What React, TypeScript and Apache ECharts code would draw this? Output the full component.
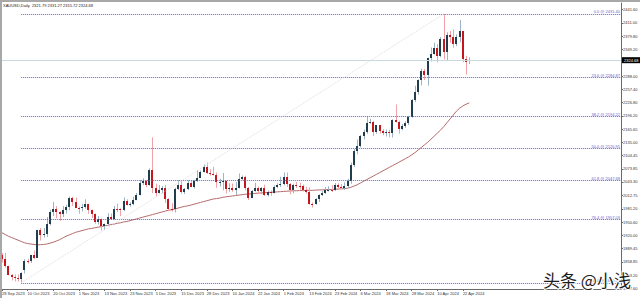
import React, { useEffect, useRef } from 'react';
import * as echarts from 'echarts';

const titleText = 'XAUUSD,Daily  2321.79 2331.27 2315.72 2324.68';
const currentPrice = 2324.68;

const dateLabels = ['28 Sep 2023', '10 Oct 2023', '20 Oct 2023', '1 Nov 2023', '13 Nov 2023', '23 Nov 2023', '5 Dec 2023', '15 Dec 2023', '28 Dec 2023', '10 Jan 2024', '22 Jan 2024', '1 Feb 2024', '13 Feb 2024', '23 Feb 2024', '6 Mar 2024', '18 Mar 2024', '28 Mar 2024', '10 Apr 2024', '22 Apr 2024'];
const labelBars = [0, 8, 16, 24, 32, 40, 48, 56, 64, 72, 80, 88, 96, 104, 112, 120, 128, 136, 144];

const yTicks = [2441.6, 2411.0, 2379.8, 2349.2, 2288.0, 2257.4, 2226.8, 2196.2, 2165.65, 2135.0, 2104.45, 2073.85, 2043.3, 2012.75, 1981.2, 1950.6, 1920.0, 1889.45, 1858.85, 1828.2, 1797.6];

const opens = [1874.5, 1864.6, 1848.6, 1827.6, 1822.9, 1821.5, 1820.2, 1840.0, 1861.3, 1860.5, 1874.4, 1868.6, 1932.6, 1919.9, 1923.6, 1947.4, 1974.2, 1981.2, 1972.9, 1970.4, 1979.6, 1984.8, 2006.3, 1996.5, 1983.9, 1982.7, 1985.4, 1992.6, 1978.2, 1969.6, 1950.5, 1958.6, 1940.5, 1946.5, 1962.6, 1958.7, 1981.0, 1980.7, 1977.8, 1998.5, 1989.9, 1992.2, 2001.9, 2014.3, 2040.8, 2044.5, 2036.2, 2072.0, 2029.3, 2018.5, 2025.6, 2028.4, 2004.5, 1981.5, 1979.8, 2027.7, 2035.8, 2019.4, 2027.2, 2040.7, 2031.7, 2045.3, 2053.1, 2067.3, 2077.3, 2064.6, 2062.9, 2058.7, 2042.2, 2043.1, 2045.5, 2027.6, 2030.1, 2024.5, 2028.9, 2049.3, 2055.7, 2028.3, 2006.4, 2023.3, 2029.3, 2021.5, 2029.5, 2013.7, 2020.3, 2018.3, 2032.5, 2036.9, 2039.1, 2054.8, 2039.5, 2025.2, 2035.2, 2034.5, 2034.0, 2024.5, 2020.5, 1992.5, 1991.8, 2004.3, 2013.4, 2017.7, 2024.9, 2025.3, 2024.3, 2035.5, 2031.5, 2030.5, 2034.0, 2044.5, 2082.5, 2114.5, 2127.5, 2148.5, 2159.5, 2179.0, 2182.5, 2158.5, 2174.5, 2162.0, 2155.5, 2159.5, 2157.5, 2186.5, 2181.5, 2165.5, 2171.5, 2178.5, 2193.5, 2233.5, 2250.5, 2279.5, 2300.0, 2291.0, 2329.5, 2339.0, 2352.5, 2333.5, 2372.5, 2344.5, 2384.0, 2378.0, 2361.0, 2379.0, 2391.5, 2327.0, 2321.79];
const highs = [1879.5, 1880.0, 1850.0, 1830.7, 1829.5, 1829.6, 1835.0, 1865.0, 1866.0, 1875.0, 1885.0, 1933.0, 1937.0, 1937.0, 1962.5, 1979.0, 1997.2, 1987.5, 1976.0, 1988.0, 1991.0, 2009.5, 2009.3, 2007.4, 1986.5, 1993.0, 2003.5, 1993.0, 1980.0, 1970.5, 1965.0, 1959.8, 1947.7, 1971.0, 1970.5, 1987.6, 1993.5, 1982.7, 2007.6, 2003.5, 1996.6, 2009.4, 2017.7, 2048.0, 2052.0, 2048.0, 2075.3, 2146.5, 2039.2, 2036.5, 2034.0, 2036.5, 2005.8, 1994.0, 2030.0, 2047.6, 2048.0, 2029.6, 2047.5, 2046.7, 2048.2, 2070.9, 2070.0, 2083.8, 2088.5, 2073.0, 2078.6, 2065.2, 2051.0, 2064.0, 2047.0, 2040.5, 2040.0, 2043.0, 2062.8, 2058.4, 2057.5, 2031.5, 2025.0, 2041.7, 2033.0, 2031.7, 2037.0, 2023.7, 2024.0, 2036.0, 2040.5, 2055.5, 2065.5, 2065.5, 2041.0, 2039.5, 2043.0, 2041.8, 2037.5, 2032.5, 2031.0, 1996.0, 2006.0, 2015.0, 2022.5, 2031.5, 2033.5, 2035.5, 2041.0, 2040.5, 2038.5, 2042.5, 2051.0, 2088.5, 2119.5, 2141.5, 2152.0, 2164.5, 2195.0, 2189.5, 2184.5, 2175.0, 2175.0, 2166.0, 2164.5, 2164.0, 2188.0, 2222.5, 2185.0, 2177.0, 2183.5, 2196.5, 2235.0, 2265.5, 2280.0, 2305.0, 2304.5, 2330.5, 2354.0, 2365.0, 2362.0, 2378.5, 2431.4, 2389.0, 2392.0, 2395.5, 2384.0, 2417.5, 2392.0, 2335.0, 2331.27];
const lows = [1857.5, 1846.0, 1827.5, 1815.6, 1813.4, 1813.6, 1810.5, 1832.0, 1855.0, 1856.0, 1865.0, 1868.0, 1908.0, 1915.0, 1916.0, 1943.0, 1965.0, 1959.5, 1953.9, 1962.5, 1970.5, 1978.0, 1987.9, 1983.0, 1969.7, 1975.0, 1981.5, 1970.0, 1960.0, 1947.0, 1945.0, 1931.5, 1932.2, 1944.5, 1956.0, 1956.0, 1974.0, 1965.0, 1975.5, 1989.0, 1986.3, 1989.5, 2001.2, 2012.0, 2036.5, 2031.0, 2034.5, 2018.0, 2009.5, 2016.5, 2017.5, 1994.9, 1976.0, 1975.0, 1973.0, 2025.0, 2016.0, 2015.5, 2024.0, 2030.9, 2028.5, 2043.0, 2052.5, 2065.0, 2062.0, 2058.0, 2058.5, 2030.0, 2033.0, 2024.2, 2016.5, 2021.0, 2020.5, 2013.5, 2028.0, 2048.0, 2023.5, 2001.9, 2006.0, 2021.0, 2015.8, 2015.0, 2011.0, 2009.7, 2011.5, 2017.0, 2029.0, 2031.5, 2036.0, 2032.0, 2014.9, 2017.5, 2029.5, 2026.0, 2021.5, 2017.0, 1990.5, 1984.2, 1990.5, 1997.0, 2011.0, 2015.5, 2021.5, 2020.0, 2022.5, 2025.5, 2028.5, 2025.0, 2029.5, 2039.0, 2078.0, 2107.5, 2123.0, 2141.5, 2155.0, 2178.0, 2149.5, 2155.0, 2155.5, 2151.5, 2148.5, 2146.0, 2146.0, 2180.5, 2155.5, 2163.0, 2168.5, 2175.0, 2192.0, 2228.0, 2245.0, 2266.0, 2279.0, 2265.5, 2321.5, 2337.0, 2320.0, 2331.5, 2326.0, 2325.0, 2365.0, 2353.5, 2357.0, 2366.0, 2320.0, 2291.5, 2315.72];
const closes = [1864.6, 1848.6, 1827.6, 1822.9, 1821.5, 1820.2, 1832.6, 1861.3, 1860.5, 1874.4, 1868.6, 1932.6, 1919.9, 1923.6, 1947.4, 1974.2, 1981.2, 1972.9, 1970.4, 1979.6, 1984.8, 2006.3, 1996.5, 1983.9, 1982.7, 1985.4, 1992.6, 1978.2, 1969.6, 1950.5, 1958.6, 1940.5, 1946.5, 1962.6, 1958.7, 1981.0, 1980.7, 1977.8, 1998.5, 1989.9, 1992.2, 2001.9, 2014.3, 2040.8, 2044.5, 2036.2, 2072.0, 2029.3, 2018.5, 2025.6, 2028.4, 2004.5, 1981.5, 1979.8, 2027.7, 2035.8, 2019.4, 2027.2, 2040.7, 2031.7, 2045.3, 2053.1, 2067.3, 2077.3, 2064.6, 2062.9, 2058.7, 2042.2, 2043.1, 2045.5, 2027.6, 2030.1, 2024.5, 2028.9, 2049.3, 2055.7, 2028.3, 2006.4, 2023.3, 2029.3, 2021.5, 2029.5, 2013.7, 2020.3, 2018.3, 2032.5, 2036.9, 2039.1, 2054.8, 2039.5, 2025.2, 2035.2, 2034.5, 2034.0, 2024.5, 2020.5, 1992.5, 1991.8, 2004.3, 2013.4, 2017.7, 2024.9, 2025.3, 2024.3, 2035.5, 2031.5, 2030.5, 2034.0, 2044.5, 2082.5, 2114.5, 2127.5, 2148.5, 2159.5, 2179.0, 2182.5, 2158.5, 2174.5, 2162.0, 2155.5, 2159.5, 2157.5, 2186.5, 2181.5, 2165.5, 2171.5, 2178.5, 2193.5, 2233.5, 2250.5, 2279.5, 2300.0, 2291.0, 2329.5, 2339.0, 2352.5, 2333.5, 2372.5, 2344.5, 2383.0, 2378.0, 2361.0, 2379.0, 2391.5, 2327.0, 2321.0, 2324.68];

const maValues = [1926, 1922, 1918, 1915, 1912, 1909, 1906, 1903, 1901, 1900, 1899, 1898, 1898.5, 1899, 1900, 1902, 1904, 1907, 1910, 1914, 1918, 1921, 1924, 1927, 1929, 1931, 1933, 1935, 1936, 1937.5, 1939, 1940, 1942, 1943, 1945, 1946, 1948, 1949, 1951, 1952, 1954, 1956, 1958, 1960, 1962, 1964, 1966, 1968, 1970, 1972, 1974, 1976, 1978, 1979, 1981, 1983, 1985, 1987, 1988, 1990, 1992, 1994, 1996, 1998, 2000, 2002, 2004, 2005, 2006, 2008, 2009, 2010, 2011, 2012, 2013, 2014, 2015, 2015.5, 2016, 2017, 2017.5, 2018, 2018.5, 2019, 2019.5, 2020, 2020.5, 2021, 2021.5, 2022, 2022.5, 2023, 2023, 2023.5, 2023.5, 2024, 2024, 2024, 2024.5, 2025, 2025, 2025.5, 2026, 2026, 2026.5, 2027, 2027.5, 2028, 2029, 2031, 2034, 2037, 2041, 2045, 2049, 2053, 2057, 2061, 2065, 2069, 2073, 2077, 2081, 2085, 2089, 2093, 2097, 2101, 2106, 2111, 2117, 2123, 2129, 2135, 2142, 2149, 2156, 2163, 2171, 2180, 2189, 2198, 2207, 2214, 2219, 2223, 2226];

const fibLevels = ['0.0', '23.6', '38.2', '50.0', '61.8', '76.4', '100.0'];
const fibValues = [2431.40, 2284.87, 2194.22, 2120.95, 2047.68, 1957.03, 1810.50];
const fibStartBar = 6;
const fibEndBar = 138;

const X_MAX = 193.4;
const Y_MIN = 1796.1;
const Y_MAX = 2456.8;

const UP_BODY = '#1f3d4c';
const DOWN_BODY = '#c3161d';
const UP_WICK = '#9fb3c5';
const DOWN_WICK = '#f0a2a8';
const FIB = '#6464c8';
const FONT = '"Liberation Sans", Arial, sans-serif';

export default function App() {
  const ref = useRef<HTMLDivElement>(null);
  useEffect(() => {
    if (!ref.current) return;
    const chart = echarts.init(ref.current, null, { renderer: 'svg' });
    const candleData = opens.map((o, i) => [i, o, closes[i], lows[i], highs[i]]);
    const renderItem = (params: any, api: any) => {
      const i = api.value(0);
      const o = api.value(1);
      const c = api.value(2);
      const l = api.value(3);
      const h = api.value(4);
      const pO = api.coord([i, o]);
      const pC = api.coord([i, c]);
      const pL = api.coord([i, l]);
      const pH = api.coord([i, h]);
      const up = c >= o;
      const cx = Math.round(pO[0]);
      const top = Math.round(Math.min(pO[1], pC[1]));
      const bot = Math.round(Math.max(pO[1], pC[1]));
      const bh = Math.max(1, bot - top);
      return {
        type: 'group',
        children: [
          { type: 'rect', shape: { x: cx, y: pH[1], width: 1, height: Math.max(1, pL[1] - pH[1]) }, style: { fill: up ? UP_WICK : DOWN_WICK } },
          { type: 'rect', shape: { x: cx - 1, y: top, width: 2, height: bh }, style: { fill: up ? UP_BODY : DOWN_BODY } },
        ],
      };
    };
    const fibLines = fibValues.map((v, k) => [
      {
        coord: [fibStartBar, v],
        label: {
          show: true,
          position: 'insideEndTop',
          formatter: `${fibLevels[k]} @ ${v.toFixed(2)}`,
          color: FIB,
          fontSize: 4,
          fontFamily: FONT,
          distance: [1, 0],
        },
      },
      { coord: [X_MAX, v] },
    ]);
    chart.setOption({
      animation: false,
      backgroundColor: '#ffffff',
      grid: { left: 2, right: 19, top: 3, bottom: 9, containLabel: false, outerBoundsMode: 'none' },
      xAxis: {
        type: 'value',
        min: 0,
        max: X_MAX,
        axisLine: { show: true, onZero: false, lineStyle: { color: '#6a6a6a', width: 1 } },
        axisTick: { show: true, customValues: labelBars, length: 2, lineStyle: { color: '#6a6a6a' } },
        axisLabel: {
          customValues: labelBars,
          formatter: (v: number) => dateLabels[Math.round(v / 8)] ?? '',
          fontSize: 4,
          fontFamily: FONT,
          color: '#333',
          align: 'left',
          margin: 2,
        },
        splitLine: { show: false },
      },
      yAxis: {
        type: 'value',
        position: 'right',
        min: Y_MIN,
        max: Y_MAX,
        axisLine: { show: true, onZero: false, lineStyle: { color: '#6a6a6a', width: 1 } },
        axisTick: { show: true, customValues: yTicks, length: 2, lineStyle: { color: '#6a6a6a' } },
        axisLabel: {
          customValues: yTicks,
          formatter: (v: number) => v.toFixed(2),
          fontSize: 4,
          fontFamily: FONT,
          color: '#333',
          margin: 2,
        },
        splitLine: { show: false },
      },
      series: [
        {
          type: 'line',
          data: maValues.map((v, i) => [i, v]),
          symbol: 'none',
          showSymbol: false,
          lineStyle: { color: '#b56b6b', width: 1 },
          z: 1,
          markLine: {
            silent: true,
            symbol: 'none',
            animation: false,
            data: [
              ...fibLines,
              [
                {
                  coord: [fibStartBar, fibValues[fibValues.length - 1]],
                  label: { show: false },
                  lineStyle: { color: '#e4dadd', type: 'dotted', width: 1 },
                },
                { coord: [fibEndBar, fibValues[0]] },
              ],
              {
                yAxis: currentPrice,
                lineStyle: { color: '#c9dadf', type: 'solid', width: 1 },
                label: {
                  show: true,
                  position: 'end',
                  formatter: currentPrice.toFixed(2),
                  color: '#ffffff',
                  backgroundColor: '#000000',
                  fontSize: 4,
                  fontFamily: FONT,
                  padding: [1, 2, 1, 2],
                  distance: 1,
                },
              },
            ],
            lineStyle: { color: FIB, type: 'dotted', width: 1 },
          },
        },
        {
          type: 'custom',
          renderItem,
          data: candleData,
          encode: { x: 0, y: [1, 2, 3, 4] },
          clip: false,
          z: 3,
        },
      ],
      graphic: [
        { type: 'rect', left: 0, top: 0, shape: { width: 640, height: 2 }, style: { fill: '#a8a8a8' }, z: 10 },
        { type: 'rect', left: 0, top: 0, shape: { width: 2, height: 298 }, style: { fill: '#a8a8a8' }, z: 10 },
        { type: 'text', left: 3, top: 3, style: { text: titleText, fontSize: 4, fontFamily: FONT, fill: '#222' }, z: 10 },
        {
          type: 'text',
          left: 542,
          top: 270,
          style: {
            text: '头条 @小浅',
            fontSize: 17,
            fontFamily: '"Noto Sans CJK SC", sans-serif',
            fill: '#1c1c1c',
            stroke: '#ffffff',
            lineWidth: 2,
          },
          z: 10,
        },
      ],
    });
    return () => chart.dispose();
  }, []);
  return <div ref={ref} style={{ position: 'absolute', left: 0, top: 0, width: 640, height: 298 }} />;
}
